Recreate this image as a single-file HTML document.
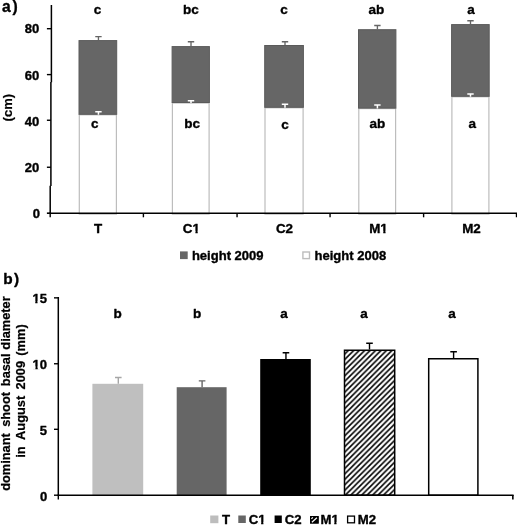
<!DOCTYPE html>
<html><head><meta charset="utf-8"><style>
html,body{margin:0;padding:0;background:#fff;}
svg{display:block;will-change:transform;}
text{font-family:"Liberation Sans", sans-serif;font-weight:bold;}
</style></head><body>
<svg width="517" height="525" viewBox="0 0 517 525">
<defs>
<pattern id="hatch" patternUnits="userSpaceOnUse" width="5.45" height="5.45" patternTransform="translate(1.2,0)">
<rect width="5.45" height="5.45" fill="#fff"/>
<path d="M-1.4 1.4L1.4 -1.4M0 5.45L5.45 0M4.05 6.85L6.85 4.05" stroke="#000" stroke-width="1.6"/>
</pattern>
</defs>
<rect width="517" height="525" fill="#fff"/>
<g transform="translate(1.95,11.70)"><text font-size="15.6" fill="#000" stroke="#000" stroke-width="0.35" stroke-linejoin="round">a</text></g>
<g transform="translate(12.58,12.20)"><text font-size="15.6" fill="#000" stroke="#000" stroke-width="0.35" stroke-linejoin="round">)</text></g>
<path d="M51.4 5V82.2M50.9 82V186M50.2 185.8V214" stroke="#000" stroke-width="1.5" fill="none"/>
<line x1="46.9" y1="213.20" x2="50.20" y2="213.20" stroke="#000" stroke-width="1.6"/>
<g transform="translate(32.68,218.25) scale(1.07,1)"><text font-size="12.2" fill="#000" stroke="#000" stroke-width="0.35" stroke-linejoin="round">0</text></g>
<line x1="46.9" y1="167.25" x2="50.90" y2="167.25" stroke="#000" stroke-width="1.4"/>
<g transform="translate(24.82,172.10) scale(1.07,1)"><text font-size="12.2" fill="#000" stroke="#000" stroke-width="0.35" stroke-linejoin="round">20</text></g>
<line x1="46.9" y1="120.25" x2="50.90" y2="120.25" stroke="#000" stroke-width="1.4"/>
<g transform="translate(24.82,125.65) scale(1.07,1)"><text font-size="12.2" fill="#000" stroke="#000" stroke-width="0.35" stroke-linejoin="round">40</text></g>
<line x1="46.9" y1="74.60" x2="51.40" y2="74.60" stroke="#000" stroke-width="1.4"/>
<g transform="translate(24.82,79.67) scale(1.07,1)"><text font-size="12.2" fill="#000" stroke="#000" stroke-width="0.35" stroke-linejoin="round">60</text></g>
<line x1="46.9" y1="28.70" x2="51.40" y2="28.70" stroke="#000" stroke-width="1.4"/>
<g transform="translate(24.82,33.10) scale(1.07,1)"><text font-size="12.2" fill="#000" stroke="#000" stroke-width="0.35" stroke-linejoin="round">80</text></g>
<text transform="translate(12.30,121.42) rotate(-90)" font-size="13" stroke="#000" stroke-width="0.2" stroke-linejoin="round">(cm)</text>
<rect x="79.30" y="114.80" width="37.10" height="99.30" fill="#fff" stroke="#bdbdbd" stroke-width="1.2"/>
<rect x="79.00" y="40.60" width="37.70" height="73.70" fill="#666666" stroke="#5a5a5a" stroke-width="1"/>
<path d="M95.25 36.60H101.65M98.45 36.60V40.10" stroke="#666666" stroke-width="1.35" fill="none"/>
<path d="M95.25 111.80H101.65M98.45 111.80V114.80" stroke="#fff" stroke-width="1.5" fill="none"/>
<g transform="translate(93.77,14.20) scale(1.04,1)"><text font-size="13" fill="#000" stroke="#000" stroke-width="0.35" stroke-linejoin="round">c</text></g>
<g transform="translate(90.92,127.70) scale(1.04,1)"><text font-size="13" fill="#000" stroke="#000" stroke-width="0.35" stroke-linejoin="round">c</text></g>
<rect x="172.40" y="103.00" width="36.70" height="111.10" fill="#fff" stroke="#bdbdbd" stroke-width="1.2"/>
<rect x="172.10" y="46.60" width="37.30" height="55.90" fill="#666666" stroke="#5a5a5a" stroke-width="1"/>
<path d="M187.80 41.75H194.20M191.00 41.75V46.10" stroke="#666666" stroke-width="1.35" fill="none"/>
<path d="M187.80 100.70H194.20M191.00 100.70V103.00" stroke="#fff" stroke-width="1.5" fill="none"/>
<g transform="translate(183.11,14.20) scale(1.04,1)"><text font-size="13" fill="#000" stroke="#000" stroke-width="0.35" stroke-linejoin="round">bc</text></g>
<g transform="translate(184.26,127.80) scale(1.04,1)"><text font-size="13" fill="#000" stroke="#000" stroke-width="0.35" stroke-linejoin="round">bc</text></g>
<rect x="265.00" y="107.80" width="38.10" height="106.30" fill="#fff" stroke="#bdbdbd" stroke-width="1.2"/>
<rect x="264.70" y="45.50" width="38.70" height="61.80" fill="#666666" stroke="#5a5a5a" stroke-width="1"/>
<path d="M281.80 41.75H288.20M285.00 41.75V45.00" stroke="#666666" stroke-width="1.35" fill="none"/>
<path d="M281.80 104.20H288.20M285.00 104.20V107.80" stroke="#fff" stroke-width="1.5" fill="none"/>
<g transform="translate(280.27,14.20) scale(1.04,1)"><text font-size="13" fill="#000" stroke="#000" stroke-width="0.35" stroke-linejoin="round">c</text></g>
<g transform="translate(281.27,128.60) scale(1.04,1)"><text font-size="13" fill="#000" stroke="#000" stroke-width="0.35" stroke-linejoin="round">c</text></g>
<rect x="358.80" y="108.60" width="36.80" height="105.50" fill="#fff" stroke="#bdbdbd" stroke-width="1.2"/>
<rect x="358.50" y="29.70" width="37.40" height="78.40" fill="#666666" stroke="#5a5a5a" stroke-width="1"/>
<path d="M374.20 25.50H380.60M377.40 25.50V29.20" stroke="#666666" stroke-width="1.35" fill="none"/>
<path d="M374.20 104.90H380.60M377.40 104.90V108.60" stroke="#fff" stroke-width="1.5" fill="none"/>
<g transform="translate(368.44,14.20) scale(1.04,1)"><text font-size="13" fill="#000" stroke="#000" stroke-width="0.35" stroke-linejoin="round">ab</text></g>
<g transform="translate(369.49,127.80) scale(1.04,1)"><text font-size="13" fill="#000" stroke="#000" stroke-width="0.35" stroke-linejoin="round">ab</text></g>
<rect x="451.90" y="96.80" width="37.00" height="117.30" fill="#fff" stroke="#bdbdbd" stroke-width="1.2"/>
<rect x="451.60" y="24.60" width="37.60" height="71.70" fill="#666666" stroke="#5a5a5a" stroke-width="1"/>
<path d="M467.30 20.70H473.70M470.50 20.70V24.10" stroke="#666666" stroke-width="1.35" fill="none"/>
<path d="M467.30 93.90H473.70M470.50 93.90V96.80" stroke="#fff" stroke-width="1.5" fill="none"/>
<g transform="translate(467.35,14.20) scale(1.04,1)"><text font-size="13" fill="#000" stroke="#000" stroke-width="0.35" stroke-linejoin="round">a</text></g>
<g transform="translate(468.50,127.60) scale(1.04,1)"><text font-size="13" fill="#000" stroke="#000" stroke-width="0.35" stroke-linejoin="round">a</text></g>
<g transform="translate(94.01,233.10) scale(1.03,1)"><text font-size="13" fill="#000" stroke="#000" stroke-width="0.35" stroke-linejoin="round">T</text></g>
<g transform="translate(182.85,233.10) scale(1.03,1)"><text font-size="13" fill="#000" stroke="#000" stroke-width="0.35" stroke-linejoin="round">C1</text><rect x="9.78" y="-2.25" width="2.41" height="3.45" fill="#fff"/><rect x="14.44" y="-2.25" width="3.53" height="3.45" fill="#fff"/></g>
<g transform="translate(275.94,233.10) scale(1.03,1)"><text font-size="13" fill="#000" stroke="#000" stroke-width="0.35" stroke-linejoin="round">C2</text></g>
<g transform="translate(369.20,233.10) scale(1.03,1)"><text font-size="13" fill="#000" stroke="#000" stroke-width="0.35" stroke-linejoin="round">M1</text><rect x="11.22" y="-2.25" width="2.41" height="3.45" fill="#fff"/><rect x="15.88" y="-2.25" width="3.53" height="3.45" fill="#fff"/></g>
<g transform="translate(462.17,233.10) scale(1.03,1)"><text font-size="13" fill="#000" stroke="#000" stroke-width="0.35" stroke-linejoin="round">M2</text></g>
<line x1="49.5" y1="213.2" x2="517" y2="213.2" stroke="#000" stroke-width="1.6"/>
<line x1="50.20" y1="213" x2="50.20" y2="217.3" stroke="#000" stroke-width="1.4"/>
<line x1="143.40" y1="213" x2="143.40" y2="217.3" stroke="#000" stroke-width="1.4"/>
<line x1="237.06" y1="213" x2="237.06" y2="217.3" stroke="#000" stroke-width="1.4"/>
<line x1="330.06" y1="213" x2="330.06" y2="217.3" stroke="#000" stroke-width="1.4"/>
<line x1="423.60" y1="213" x2="423.60" y2="217.3" stroke="#000" stroke-width="1.4"/>
<line x1="516.50" y1="213" x2="516.50" y2="217.3" stroke="#000" stroke-width="1.4"/>
<rect x="180" y="251.4" width="7.7" height="7.7" fill="#666666"/>
<g transform="translate(191.89,259.55) scale(1.02,1)"><text font-size="12.8" fill="#000" stroke="#000" stroke-width="0.35" stroke-linejoin="round">height 2009</text></g>
<rect x="302.9" y="252" width="6.6" height="6.6" fill="#fff" stroke="#bdbdbd" stroke-width="1.4"/>
<g transform="translate(314.49,259.55) scale(1.02,1)"><text font-size="12.8" fill="#000" stroke="#000" stroke-width="0.35" stroke-linejoin="round">height 2008</text></g>
<g transform="translate(3.18,283.70)"><text font-size="15.4" fill="#000" stroke="#000" stroke-width="0.35" stroke-linejoin="round">b</text></g>
<g transform="translate(13.98,283.90)"><text font-size="15.4" fill="#000" stroke="#000" stroke-width="0.35" stroke-linejoin="round">)</text></g>
<line x1="58.3" y1="297" x2="58.3" y2="496" stroke="#000" stroke-width="1.5"/>
<line x1="54" y1="495.20" x2="58.5" y2="495.20" stroke="#000" stroke-width="1.4"/>
<g transform="translate(39.88,500.50) scale(1.07,1)"><text font-size="12.2" fill="#000" stroke="#000" stroke-width="0.35" stroke-linejoin="round">0</text></g>
<line x1="54" y1="429.30" x2="58.5" y2="429.30" stroke="#000" stroke-width="1.4"/>
<g transform="translate(39.71,434.50) scale(1.07,1)"><text font-size="12.2" fill="#000" stroke="#000" stroke-width="0.35" stroke-linejoin="round">5</text></g>
<line x1="54" y1="363.75" x2="58.5" y2="363.75" stroke="#000" stroke-width="1.4"/>
<g transform="translate(32.62,368.50) scale(1.07,1)"><text font-size="12.2" fill="#000" stroke="#000" stroke-width="0.35" stroke-linejoin="round">10</text><rect x="0.37" y="-2.17" width="2.25" height="3.37" fill="#fff"/><rect x="4.75" y="-2.17" width="2.26" height="3.37" fill="#fff"/></g>
<line x1="54" y1="297.85" x2="58.5" y2="297.85" stroke="#000" stroke-width="1.4"/>
<g transform="translate(32.45,303.20) scale(1.07,1)"><text font-size="12.2" fill="#000" stroke="#000" stroke-width="0.35" stroke-linejoin="round">15</text><rect x="0.37" y="-2.17" width="2.25" height="3.37" fill="#fff"/><rect x="4.75" y="-2.17" width="2.26" height="3.37" fill="#fff"/></g>
<text transform="translate(9.70,349.69) rotate(-90)" font-size="12.8" stroke="#000" stroke-width="0.25" stroke-linejoin="round">diameter</text>
<text transform="translate(9.70,386.18) rotate(-90)" font-size="12.8" stroke="#000" stroke-width="0.25" stroke-linejoin="round">basal</text>
<text transform="translate(9.70,426.87) rotate(-90)" font-size="12.8" stroke="#000" stroke-width="0.25" stroke-linejoin="round">shoot</text>
<text transform="translate(9.70,490.79) rotate(-90)" font-size="12.8" stroke="#000" stroke-width="0.25" stroke-linejoin="round">dominant</text>
<text transform="translate(25.00,355.64) rotate(-90)" font-size="12.8" stroke="#000" stroke-width="0.25" stroke-linejoin="round">(mm)</text>
<text transform="translate(25.00,389.42) rotate(-90)" font-size="12.8" stroke="#000" stroke-width="0.25" stroke-linejoin="round">2009</text>
<text transform="translate(25.00,439.92) rotate(-90)" font-size="12.8" stroke="#000" stroke-width="0.25" stroke-linejoin="round">August</text>
<text transform="translate(25.00,457.84) rotate(-90)" font-size="12.8" stroke="#000" stroke-width="0.25" stroke-linejoin="round">in</text>
<rect x="92.40" y="383.80" width="50.80" height="111.40" fill="#bfbfbf"/>
<path d="M115.00 377.50H121.60M118.30 377.50V383.80" stroke="#a6a6a6" stroke-width="1.4" fill="none"/>
<g transform="translate(113.40,318.00) scale(1.04,1)"><text font-size="13" fill="#000" stroke="#000" stroke-width="0.35" stroke-linejoin="round">b</text></g>
<rect x="176.70" y="387.20" width="49.90" height="108.00" fill="#666666"/>
<path d="M198.80 380.90H205.40M202.10 380.90V387.20" stroke="#666666" stroke-width="1.4" fill="none"/>
<g transform="translate(193.05,318.00) scale(1.04,1)"><text font-size="13" fill="#000" stroke="#000" stroke-width="0.35" stroke-linejoin="round">b</text></g>
<rect x="260.20" y="359.00" width="50.60" height="136.20" fill="#000000"/>
<path d="M282.65 352.70H289.25M285.95 352.70V359.00" stroke="#000" stroke-width="1.4" fill="none"/>
<g transform="translate(280.15,318.00) scale(1.04,1)"><text font-size="13" fill="#000" stroke="#000" stroke-width="0.35" stroke-linejoin="round">a</text></g>
<rect x="344.50" y="350.25" width="50.20" height="144.95" fill="url(#hatch)" stroke="#000" stroke-width="1.5"/>
<path d="M366.20 343.20H372.80M369.50 343.20V349.50" stroke="#000" stroke-width="1.4" fill="none"/>
<g transform="translate(360.15,318.00) scale(1.04,1)"><text font-size="13" fill="#000" stroke="#000" stroke-width="0.35" stroke-linejoin="round">a</text></g>
<rect x="428.70" y="358.75" width="49.20" height="136.45" fill="#ffffff" stroke="#000" stroke-width="1.5"/>
<path d="M450.30 351.70H456.90M453.60 351.70V358.00" stroke="#000" stroke-width="1.4" fill="none"/>
<g transform="translate(448.15,318.00) scale(1.04,1)"><text font-size="13" fill="#000" stroke="#000" stroke-width="0.35" stroke-linejoin="round">a</text></g>
<line x1="57.5" y1="495.2" x2="513.6" y2="495.2" stroke="#000" stroke-width="1.5"/>
<line x1="58.3" y1="495" x2="58.3" y2="499.6" stroke="#000" stroke-width="1.4"/>
<line x1="512.85" y1="495" x2="512.85" y2="499.5" stroke="#000" stroke-width="1.6"/>
<rect x="210.2" y="515.5" width="8.2" height="7.7" fill="#bdbdbd"/>
<rect x="238.3" y="515.5" width="7.5" height="7.5" fill="#666666"/>
<rect x="274.6" y="515.5" width="7.2" height="7.5" fill="#000"/>
<rect x="310.5" y="516.5" width="7.8" height="6.7" fill="#000" stroke="#000" stroke-width="1"/>
<path d="M311.9 522.2L316.9 517.7M311.4 518.8L312.9 517.4" stroke="#fff" stroke-width="1.2" fill="none"/>
<rect x="347.6" y="516.1" width="6.9" height="6.7" fill="#fff" stroke="#000" stroke-width="1.3"/>
<g transform="translate(222.05,524.20) scale(1.03,1)"><text font-size="12.8" fill="#000" stroke="#000" stroke-width="0.35" stroke-linejoin="round">T</text></g>
<g transform="translate(248.76,524.20) scale(1.03,1)"><text font-size="12.8" fill="#000" stroke="#000" stroke-width="0.35" stroke-linejoin="round">C1</text><rect x="9.63" y="-2.23" width="2.37" height="3.43" fill="#fff"/><rect x="14.22" y="-2.23" width="3.47" height="3.43" fill="#fff"/></g>
<g transform="translate(284.86,524.20) scale(1.03,1)"><text font-size="12.8" fill="#000" stroke="#000" stroke-width="0.35" stroke-linejoin="round">C2</text></g>
<g transform="translate(320.42,524.20) scale(1.03,1)"><text font-size="12.8" fill="#000" stroke="#000" stroke-width="0.35" stroke-linejoin="round">M1</text><rect x="11.05" y="-2.23" width="2.37" height="3.43" fill="#fff"/><rect x="15.64" y="-2.23" width="3.47" height="3.43" fill="#fff"/></g>
<g transform="translate(357.72,524.20) scale(1.03,1)"><text font-size="12.8" fill="#000" stroke="#000" stroke-width="0.35" stroke-linejoin="round">M2</text></g>
</svg>
</body></html>
